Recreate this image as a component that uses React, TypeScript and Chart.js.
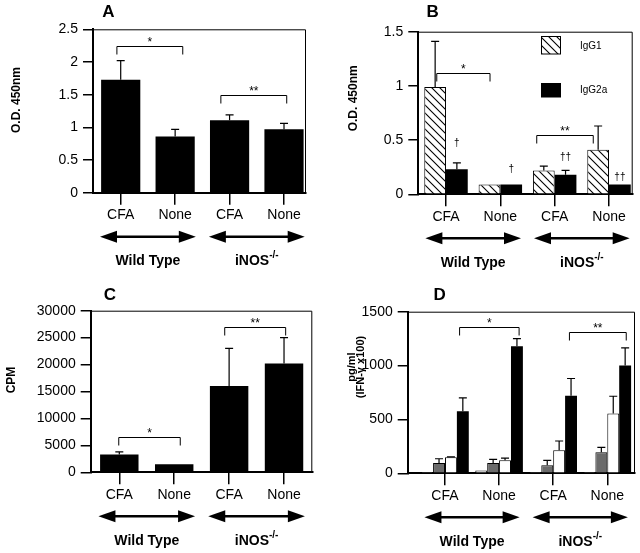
import React, { useEffect, useRef } from 'react';
import { Chart, registerables } from 'chart.js';
Chart.register(...registerables);

const FONT = "'Liberation Sans', Arial, Helvetica, sans-serif";

// ---------- shared labels ----------
const categories = ['CFA', 'None', 'CFA', 'None'];
const groupNames = ['Wild Type', 'iNOS'];
const groupSups = ['', '-/-'];
const groupSpans = [[0, 1], [2, 3]];

// ---------- Panel A ----------
const aMean = [1.73, 0.86, 1.11, 0.97];
const aSem = [0.29, 0.11, 0.08, 0.09];
const aBrackets = [
  { x0: -0.07, x1: 1.14, y: 2.24, label: '*' },
  { x0: 1.84, x1: 3.05, y: 1.5, label: '**' },
];

// ---------- Panel B ----------
const bLabels = ['IgG1', 'IgG2a'];
const bIgG1 = [0.99, 0.09, 0.22, 0.41];
const bIgG1Sem = [0.42, 0, 0.04, 0.22];
const bIgG2a = [0.23, 0.09, 0.18, 0.09];
const bIgG2aSem = [0.06, 0, 0.04, 0];
const bDaggers = ['†', '†', '††', '††'];
const bDaggerY = [0.47, 0.23, 0.34, 0.16];
const bBrackets = [
  { x0: -0.17, x1: 0.81, y: 1.12, label: '*' },
  { x0: 1.67, x1: 2.71, y: 0.55, label: '**' },
];

// ---------- Panel C ----------
const cMean = [3300, 1500, 16000, 20200];
const cSem = [500, 0, 7000, 4800];
const cBrackets = [
  { x0: -0.01, x1: 1.11, y: 6600, label: '*' },
  { x0: 1.92, x1: 3.03, y: 26900, label: '**' },
];

// ---------- Panel D ----------
const d1 = [3, 25, 2, 2];
const d1Sem = [0, 0, 0, 0];
const d2 = [95, 95, 75, 195];
const d2Sem = [40, 35, 45, 45];
const d3 = [148, 120, 215, 555];
const d3Sem = [4, 20, 85, 160];
const d4 = [575, 1180, 720, 1000];
const d4Sem = [125, 70, 160, 165];
const dBrackets = [
  { x0: 0.27, x1: 1.37, y: 1360, label: '*' },
  { x0: 2.3, x1: 3.35, y: 1315, label: '**' },
];

const pts = (arr: number[]) => arr.map((v, i) => ({ x: i, y: v }));

let hatchCache: CanvasPattern | null = null;
function hatch(): CanvasPattern {
  if (hatchCache) return hatchCache;
  const c = document.createElement('canvas');
  c.width = 8; c.height = 8;
  const g = c.getContext('2d')!;
  g.fillStyle = '#fff'; g.fillRect(0, 0, 8, 8);
  g.strokeStyle = '#000'; g.lineWidth = 1.1;
  g.beginPath();
  g.moveTo(-1, -1); g.lineTo(9, 9);
  g.moveTo(-1, 7); g.lineTo(1, 9);
  g.moveTo(7, -1); g.lineTo(9, 1);
  g.stroke();
  hatchCache = g.createPattern(c, 'repeat')!;
  return hatchCache;
}

interface Bracket { x0: number; x1: number; y: number; label: string }
interface PanelSpec {
  W: number; H: number;
  area: { left: number; right: number; top: number; bottom: number };
  xMin: number; xMax: number;
  yMax: number; yStep: number;
  datasets: any[];
  sems: number[][];
  brackets: Bracket[];
  letter: { text: string; x: number; y: number };
  yTitle: { lines: string[]; x: number; y: number; size: number; gap: number };
  extra?: (chart: any) => void;
}

function drawArrow(ctx: CanvasRenderingContext2D, xa: number, xb: number, y: number) {
  const hl = 17, hh = 6;
  ctx.strokeStyle = '#000'; ctx.fillStyle = '#000'; ctx.lineWidth = 2.5;
  ctx.beginPath(); ctx.moveTo(xa + hl - 2, y); ctx.lineTo(xb - hl + 2, y); ctx.stroke();
  ctx.beginPath(); ctx.moveTo(xa, y); ctx.lineTo(xa + hl, y - hh); ctx.lineTo(xa + hl, y + hh); ctx.closePath(); ctx.fill();
  ctx.beginPath(); ctx.moveTo(xb, y); ctx.lineTo(xb - hl, y - hh); ctx.lineTo(xb - hl, y + hh); ctx.closePath(); ctx.fill();
}

function buildConfig(p: PanelSpec): any {
  const decor = {
    id: 'decor' + p.letter.text,
    afterDraw(chart: any) {
      const ctx: CanvasRenderingContext2D = chart.ctx;
      const ca = chart.chartArea;
      const xs = chart.scales.x, ys = chart.scales.y;
      ctx.save();
      ctx.strokeStyle = '#000'; ctx.fillStyle = '#000';
      // frame top / right
      ctx.lineWidth = 1;
      ctx.beginPath();
      ctx.moveTo(ca.left, ca.top + 0.5); ctx.lineTo(ca.right - 0.5, ca.top + 0.5); ctx.lineTo(ca.right - 0.5, ca.bottom);
      ctx.stroke();
      // error bars
      p.datasets.forEach((ds: any, di: number) => {
        const sem = p.sems[di];
        if (!sem) return;
        const meta = chart.getDatasetMeta(di);
        meta.data.forEach((bar: any, i: number) => {
          const e = sem[i];
          if (!e) return;
          const v = ds.data[i].y;
          const yTop = ys.getPixelForValue(v + e);
          ctx.lineWidth = 1.2;
          ctx.beginPath();
          ctx.moveTo(bar.x, bar.y); ctx.lineTo(bar.x, yTop);
          ctx.moveTo(bar.x - 4, yTop); ctx.lineTo(bar.x + 4, yTop);
          ctx.stroke();
        });
      });
      // brackets
      p.brackets.forEach((b) => {
        const x0 = xs.getPixelForValue(b.x0), x1 = xs.getPixelForValue(b.x1);
        const y = Math.round(ys.getPixelForValue(b.y)) + 0.5;
        ctx.lineWidth = 1;
        ctx.beginPath();
        ctx.moveTo(x0, y + 8); ctx.lineTo(x0, y); ctx.lineTo(x1, y); ctx.lineTo(x1, y + 8);
        ctx.stroke();
        ctx.font = `12px ${FONT}`; ctx.textAlign = 'center'; ctx.textBaseline = 'alphabetic';
        ctx.fillText(b.label, (x0 + x1) / 2, y - 1);
      });
      // arrows + group labels
      groupSpans.forEach(([i0, i1], g) => {
        const xa = xs.getPixelForValue(i0 - 0.38), xb = xs.getPixelForValue(i1 + 0.38);
        drawArrow(ctx, xa, xb, ca.bottom + 44);
        const cx = (xa + xb) / 2, cy = ca.bottom + 68.5;
        ctx.textBaseline = 'middle'; ctx.textAlign = 'left';
        ctx.font = `bold 14px ${FONT}`;
        const w1 = ctx.measureText(groupNames[g]).width;
        ctx.font = `bold 10px ${FONT}`;
        const w2 = groupSups[g] ? ctx.measureText(groupSups[g]).width : 0;
        const sx = cx - (w1 + w2) / 2;
        ctx.font = `bold 14px ${FONT}`;
        ctx.fillText(groupNames[g], sx, cy);
        if (groupSups[g]) {
          ctx.font = `bold 10px ${FONT}`;
          ctx.fillText(groupSups[g], sx + w1, cy - 6);
        }
      });
      // panel letter
      ctx.font = `bold 17px ${FONT}`; ctx.textAlign = 'center'; ctx.textBaseline = 'middle';
      ctx.fillText(p.letter.text, p.letter.x, p.letter.y);
      // y title
      ctx.save();
      ctx.translate(p.yTitle.x, p.yTitle.y);
      ctx.rotate(-Math.PI / 2);
      ctx.font = `bold ${p.yTitle.size}px ${FONT}`;
      const n = p.yTitle.lines.length;
      p.yTitle.lines.forEach((ln, i) => ctx.fillText(ln, 0, (i - (n - 1) / 2) * p.yTitle.gap));
      ctx.restore();
      if (p.extra) p.extra(chart);
      ctx.restore();
    },
  };
  const a = p.area;
  return {
    type: 'bar',
    data: { datasets: p.datasets },
    options: {
      responsive: false,
      animation: false,
      events: [],
      layout: { padding: { top: a.top, right: p.W - a.right, left: 0, bottom: 0 } },
      plugins: { legend: { display: false }, tooltip: { enabled: false } },
      scales: {
        x: {
          type: 'linear',
          min: p.xMin, max: p.xMax,
          offset: false,
          afterBuildTicks: (s: any) => { s.ticks = categories.map((_, i) => ({ value: i })); },
          afterFit: (s: any) => { s.height = p.H - a.bottom; },
          grid: { drawOnChartArea: false, drawTicks: true, tickLength: 12, color: '#000', lineWidth: 1.5, offset: false },
          border: { color: '#000', width: 2 },
          ticks: { padding: 2, color: '#000', font: { size: 14, family: FONT }, maxRotation: 0, autoSkip: false,
            callback: (v: number) => categories[v] ?? '' },
        },
        y: {
          type: 'linear',
          min: 0, max: p.yMax,
          afterFit: (s: any) => { s.width = a.left; },
          grid: { drawOnChartArea: false, drawTicks: true, tickLength: 10, color: '#000', lineWidth: 1.5 },
          border: { color: '#000', width: 2 },
          ticks: { stepSize: p.yStep, padding: 5, color: '#000', font: { size: 14, family: FONT },
            callback: (v: number) => String(v) },
        },
      },
    },
    plugins: [decor],
  };
}

function specA(): PanelSpec {
  return {
    W: 320, H: 276,
    area: { left: 93, right: 306, top: 29.3, bottom: 192.7 },
    xMin: -0.509, xMax: 3.404, yMax: 2.5, yStep: 0.5,
    datasets: [{ data: pts(aMean), backgroundColor: '#000', borderWidth: 0, barPercentage: 0.72, categoryPercentage: 1 }],
    sems: [aSem],
    brackets: aBrackets,
    letter: { text: 'A', x: 108.3, y: 12.5 },
    yTitle: { lines: ['O.D. 450nm'], x: 16.7, y: 100, size: 12, gap: 0 },
  };
}

function specB(): PanelSpec {
  return {
    W: 320, H: 276,
    area: { left: 98.3, right: 312.7, top: 31.7, bottom: 194.3 },
    xMin: -0.51, xMax: 3.436, yMax: 1.5, yStep: 0.5,
    datasets: [
      { label: bLabels[0], data: pts(bIgG1), backgroundColor: hatch(), borderColor: '#000', borderWidth: 1, barPercentage: 1, categoryPercentage: 0.8 },
      { label: bLabels[1], data: pts(bIgG2a), backgroundColor: '#000', borderWidth: 0, barPercentage: 1, categoryPercentage: 0.8 },
    ],
    sems: [bIgG1Sem, bIgG2aSem],
    brackets: bBrackets,
    letter: { text: 'B', x: 112.7, y: 12.5 },
    yTitle: { lines: ['O.D. 450nm'], x: 33.7, y: 98.3, size: 12, gap: 0 },
    extra: (chart: any) => {
      const ctx: CanvasRenderingContext2D = chart.ctx;
      const ys = chart.scales.y;
      const meta = chart.getDatasetMeta(1);
      ctx.fillStyle = '#000';
      ctx.font = `10px ${FONT}`; ctx.textAlign = 'center'; ctx.textBaseline = 'middle';
      meta.data.forEach((bar: any, i: number) => {
        ctx.fillText(bDaggers[i], bar.x, ys.getPixelForValue(bDaggerY[i]));
      });
      // legend
      ctx.fillStyle = hatch();
      ctx.fillRect(221, 36, 20, 18);
      ctx.strokeStyle = '#000'; ctx.lineWidth = 1;
      ctx.strokeRect(221.5, 36.5, 19, 17.5);
      ctx.fillStyle = '#000';
      ctx.fillRect(221, 83, 20, 14.5);
      ctx.font = `10px ${FONT}`; ctx.textAlign = 'left'; ctx.textBaseline = 'middle';
      ctx.fillText(bLabels[0], 260, 46.7);
      ctx.fillText(bLabels[1], 260, 90.7);
    },
  };
}

function specC(): PanelSpec {
  return {
    W: 320, H: 277,
    area: { left: 90.7, right: 312.3, top: 34.7, bottom: 196.3 },
    xMin: -0.521, xMax: 3.515, yMax: 30000, yStep: 5000,
    datasets: [{ data: pts(cMean), backgroundColor: '#000', borderWidth: 0, barPercentage: 0.7, categoryPercentage: 1 }],
    sems: [cSem],
    brackets: cBrackets,
    letter: { text: 'C', x: 110, y: 19.8 },
    yTitle: { lines: ['CPM'], x: 11.7, y: 104, size: 12, gap: 0 },
  };
}

function specD(): PanelSpec {
  const common = { barPercentage: 1, categoryPercentage: 0.88 };
  return {
    W: 320, H: 277,
    area: { left: 87.7, right: 315, top: 35.7, bottom: 197.3 },
    xMin: -0.689, xMax: 3.512, yMax: 1500, yStep: 500,
    datasets: [
      { data: pts(d1), backgroundColor: '#fff', borderColor: '#000', borderWidth: 1, ...common },
      { data: pts(d2), backgroundColor: '#6b6b6b', borderColor: '#000', borderWidth: 1, ...common },
      { data: pts(d3), backgroundColor: '#fff', borderColor: '#000', borderWidth: 1, ...common },
      { data: pts(d4), backgroundColor: '#000', borderWidth: 0, ...common },
    ],
    sems: [d1Sem, d2Sem, d3Sem, d4Sem],
    brackets: dBrackets,
    letter: { text: 'D', x: 119.7, y: 19.8 },
    yTitle: { lines: ['pg/ml', '(IFN-γ x100)'], x: 36.5, y: 91, size: 11, gap: 9.5 },
  };
}

function Panel({ spec, left, top }: { spec: () => PanelSpec; left: number; top: number }) {
  const ref = useRef<HTMLCanvasElement>(null);
  const s = spec();
  useEffect(() => {
    const chart = new Chart(ref.current!, buildConfig(spec()));
    return () => chart.destroy();
  }, []);
  return (
    <div style={{ position: 'absolute', left, top, width: s.W, height: s.H }}>
      <canvas ref={ref} width={s.W} height={s.H} style={{ width: s.W, height: s.H, display: 'block' }} />
    </div>
  );
}

export default function App() {
  return (
    <div style={{ position: 'fixed', left: 0, top: 0, width: 640, height: 553, background: '#fff', overflow: 'hidden' }}>
      <Panel spec={specA} left={0} top={0} />
      <Panel spec={specB} left={320} top={0} />
      <Panel spec={specC} left={0} top={276} />
      <Panel spec={specD} left={320} top={276} />
    </div>
  );
}
